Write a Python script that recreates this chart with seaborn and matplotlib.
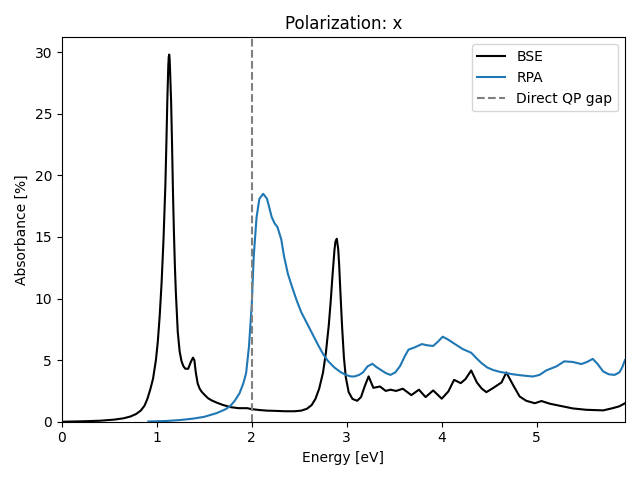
import numpy as np
import pandas as pd
import seaborn as sns
import matplotlib
matplotlib.use("Agg")
import matplotlib.pyplot as plt

# BSE spectrum
bse_energy = [0.0, 0.2, 0.4, 0.55, 0.65, 0.72, 0.78, 0.83, 0.87, 0.90, 0.93, 0.96, 0.99,
              1.01, 1.03, 1.05, 1.07, 1.09, 1.10, 1.11, 1.12, 1.125, 1.13, 1.135, 1.14,
              1.15, 1.16, 1.17, 1.18, 1.19, 1.20, 1.22, 1.24, 1.26, 1.28, 1.30, 1.33,
              1.355, 1.38, 1.395, 1.41, 1.43, 1.45, 1.47, 1.50, 1.54, 1.58, 1.63, 1.70,
              1.78, 1.86, 1.95, 2.0, 2.08, 2.16, 2.25, 2.35, 2.45, 2.52, 2.58, 2.63,
              2.67, 2.71, 2.75, 2.78, 2.81, 2.83, 2.85, 2.87, 2.88, 2.895, 2.91, 2.92,
              2.93, 2.95, 2.97, 2.99, 3.02, 3.06, 3.11, 3.15, 3.19, 3.23, 3.28, 3.35,
              3.41, 3.46, 3.52, 3.59, 3.68, 3.76, 3.83, 3.91, 4.0, 4.07, 4.13, 4.2,
              4.25, 4.31, 4.37, 4.42, 4.47, 4.54, 4.63, 4.68, 4.75, 4.82, 4.89, 4.98,
              5.05, 5.14, 5.24, 5.38, 5.52, 5.70, 5.80, 5.87, 5.93]
bse_abs = [0.0, 0.03, 0.08, 0.17, 0.28, 0.42, 0.62, 0.9, 1.3, 1.85, 2.6, 3.5, 5.0,
           6.5, 8.6, 11.3, 14.8, 19.3, 22.5, 26.0, 28.8, 29.6, 29.8, 29.4, 28.3,
           26.0, 22.5, 18.5, 15.3, 12.6, 10.5, 7.3, 5.7, 4.9, 4.5, 4.3, 4.3,
           4.8, 5.2, 5.0, 4.0, 3.1, 2.7, 2.45, 2.2, 1.9, 1.72, 1.55, 1.35,
           1.18, 1.1, 1.1, 1.02, 0.95, 0.9, 0.88, 0.85, 0.85, 0.9, 1.05, 1.35,
           1.85, 2.7, 4.0, 5.6, 7.8, 9.7, 11.9, 13.9, 14.6, 14.85, 14.0, 12.7,
           11.0, 7.8, 5.2, 3.6, 2.4, 1.85, 1.7, 2.0, 2.9, 3.68, 2.75, 2.86,
           2.5, 2.6, 2.5, 2.68, 2.16, 2.6, 2.0, 2.54, 1.87, 2.46, 3.4, 3.13,
           3.46, 4.16, 3.19, 2.7, 2.4, 2.73, 3.19, 4.0, 3.0, 2.05, 1.7, 1.5,
           1.68, 1.46, 1.3, 1.08, 0.97, 0.92, 1.1, 1.25, 1.5]

# RPA spectrum
rpa_energy = [0.91, 1.1, 1.25, 1.38, 1.5, 1.63, 1.72, 1.77, 1.82, 1.87, 1.91, 1.94,
              1.97, 2.0, 2.02, 2.05, 2.08, 2.12, 2.16, 2.21, 2.24, 2.27, 2.31, 2.34,
              2.38, 2.43, 2.47, 2.52, 2.58, 2.64, 2.70, 2.75, 2.80, 2.87, 2.93, 2.99,
              3.04, 3.08, 3.13, 3.17, 3.22, 3.27, 3.31, 3.36, 3.41, 3.46, 3.51, 3.56,
              3.61, 3.65, 3.72, 3.79, 3.85, 3.91, 3.96, 4.01, 4.06, 4.12, 4.17, 4.22,
              4.31, 4.36, 4.42, 4.48, 4.54, 4.61, 4.68, 4.75, 4.82, 4.89, 4.96, 5.03,
              5.10, 5.21, 5.29, 5.38, 5.47, 5.53, 5.59, 5.64, 5.70, 5.76, 5.82, 5.87,
              5.90, 5.93]
rpa_abs = [0.02, 0.06, 0.14, 0.25, 0.4, 0.7, 1.0, 1.25, 1.7, 2.3, 3.1, 3.95,
           6.1, 9.6, 13.4, 16.6, 18.1, 18.5, 18.1, 16.6, 16.1, 15.8, 14.8, 13.4,
           12.0, 10.8, 9.9, 8.9, 8.0, 7.1, 6.2, 5.5, 4.95, 4.4, 4.05, 3.8,
           3.68, 3.67, 3.8, 4.0, 4.5, 4.7, 4.45, 4.2, 3.95, 3.8, 4.0, 4.5,
           5.3, 5.85, 6.05, 6.3, 6.2, 6.15, 6.5, 6.9, 6.7, 6.4, 6.15, 5.9,
           5.6, 5.2, 4.75, 4.4, 4.2, 4.05, 3.95, 3.85, 3.78, 3.72, 3.67, 3.8,
           4.16, 4.5, 4.9, 4.85, 4.68, 4.85, 5.1, 4.7, 4.08, 3.85, 3.8, 4.0,
           4.4, 5.0]

bse = pd.DataFrame({"Energy": bse_energy, "Absorbance": bse_abs})
rpa = pd.DataFrame({"Energy": rpa_energy, "Absorbance": rpa_abs})
qp_gap = 2.0

fig, ax = plt.subplots(figsize=(6.4, 4.8), dpi=100)

sns.lineplot(data=bse, x="Energy", y="Absorbance", color="black", label="BSE",
             estimator=None, sort=False, ax=ax)
sns.lineplot(data=rpa, x="Energy", y="Absorbance", color="tab:blue", label="RPA",
             estimator=None, sort=False, ax=ax)
ax.axvline(qp_gap, color="gray", linestyle="--", label="Direct QP gap")

ax.set_xlim(0, 5.93)
ax.set_ylim(0, 31.2)
ax.set_title("Polarization: x")
ax.set_xlabel("Energy [eV]")
ax.set_ylabel("Absorbance [%]")
ax.legend(loc="upper right")

plt.tight_layout()
plt.savefig("out.png")
